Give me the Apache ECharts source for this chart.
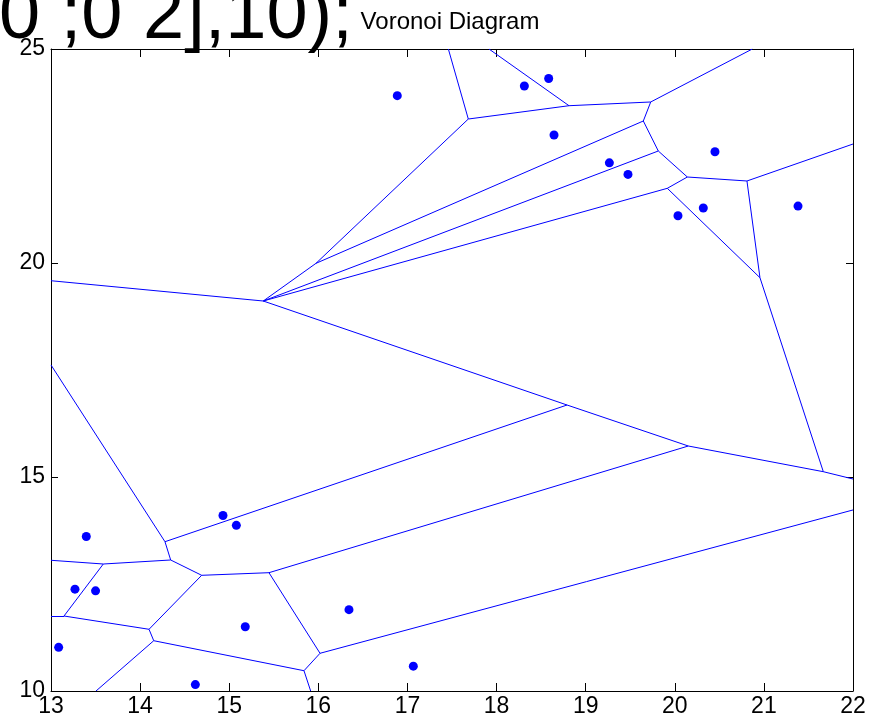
<!DOCTYPE html>
<html>
<head>
<meta charset="utf-8">
<script src="https://cdn.jsdelivr.net/npm/echarts@6/dist/echarts.min.js"></script>
<style>
    html, body { margin: 0; padding: 0; background: #fff; }
    #main { width: 873px; height: 722px; }
</style>
</head>
<body>
<div id="main"></div>
<script>
    // 点（sites）
    var siteX = [16.886, 18.312, 18.585, 18.645, 19.266, 19.475, 20.451, 20.320, 20.036, 21.383,
                 14.930, 15.080, 13.396, 13.269, 13.500, 13.086, 15.180, 16.344, 17.066, 14.620];
    var siteY = [23.91, 24.135, 24.31, 22.99, 22.34, 22.07, 22.60, 21.285, 21.105, 21.33,
                 14.10, 13.87, 13.61, 12.38, 12.34, 11.02, 11.50, 11.90, 10.58, 10.15];

    // voronoi 顶点, 后面几个是边出框的位置
    var vertX = [17.683, 18.813, 19.730, 19.647, 19.815, 20.141, 20.810, 19.916, 20.956, 15.382,
                 15.974, 18.791, 20.152, 21.667, 15.446, 14.279, 14.343, 13.587, 14.691, 14.100,
                 16.019, 13.146, 14.153, 15.839,
                 17.459, 17.915, 20.870, 22, 22, 22, 13, 13, 13, 13, 13.505, 15.914];
    var vertY = [23.364, 23.675, 23.762, 23.318, 22.617, 22.009, 21.916, 21.745, 19.657, 19.112,
                 19.993, 16.682, 15.724, 15.124, 12.764, 13.488, 13.061, 12.967, 12.703, 11.442,
                 10.881, 11.752, 11.175, 10.474,
                 25, 25, 25, 22.780, 14.953, 14.23, 19.586, 17.617, 13.054, 11.752, 10, 10];

    // 边: 顶点下标
    var edgeFrom = [24, 0, 0, 25, 1, 2, 2, 3, 3, 4, 4, 5, 5, 7, 7, 6, 6, 8, 13, 12, 9, 9,
                    9, 11, 11, 12, 31, 15, 16, 32, 16, 18, 18, 17, 33, 21, 19, 22, 22, 23, 23, 14, 20];
    var edgeTo   = [0, 10, 1, 1, 2, 26, 3, 10, 4, 9, 5, 6, 7, 9, 8, 8, 27, 13, 28, 13, 10, 30,
                    11, 12, 15, 14, 15, 16, 17, 17, 18, 14, 19, 21, 21, 19, 22, 34, 23, 20, 35, 20, 29];

    var xMin = 13, xMax = 22, xStep = 1;
    var yMin = 10, yMax = 25, yStep = 5;

    var font = "'Liberation Sans', Arial, sans-serif";

    var sites = siteX.map(function (x, i) { return [x, siteY[i]]; });
    var edges = edgeFrom.map(function (a, i) {
        var b = edgeTo[i];
        return { coords: [[vertX[a], vertY[a]], [vertX[b], vertY[b]]] };
    });

    var myChart = echarts.init(document.getElementById('main'));

    function axisX(pos, showLabel) {
        return {
            type: 'value', position: pos, min: xMin, max: xMax, interval: xStep,
            splitLine: { show: false },
            axisLine: { show: true, onZero: false, lineStyle: { color: '#000', width: 1 } },
            axisTick: { show: true, inside: true, length: 8, lineStyle: { color: '#000' } },
            axisLabel: { show: showLabel, color: '#000', fontSize: 23, fontFamily: font, margin: 4 }
        };
    }
    function axisY(pos, showLabel) {
        return {
            type: 'value', position: pos, min: yMin, max: yMax, interval: yStep,
            splitLine: { show: false },
            axisLine: { show: true, onZero: false, lineStyle: { color: '#000', width: 1 } },
            axisTick: { show: true, inside: true, length: 7, lineStyle: { color: '#000' } },
            axisLabel: { show: showLabel, color: '#000', fontSize: 23, fontFamily: font, margin: 6 }
        };
    }

    var option = {
        animation: false,
        backgroundColor: '#fff',
        grid: { left: 51, right: 20, top: 49, bottom: 31 },
        xAxis: [axisX('bottom', true), axisX('top', false)],
        yAxis: [axisY('left', true), axisY('right', false)],
        graphic: [
            {
                type: 'text', left: -1, top: -19, z: 10,
                style: { text: '0 ;0 2],10);', fontSize: 74, fontFamily: font, fill: '#000' }
            },
            {
                type: 'text', x: 450, y: 22, z: 10,
                style: { text: 'Voronoi Diagram', fontSize: 24, fontFamily: font, fill: '#000',
                         align: 'center', verticalAlign: 'middle' }
            }
        ],
        series: [
            {
                type: 'lines',
                coordinateSystem: 'cartesian2d',
                silent: true,
                lineStyle: { color: '#0000ff', width: 1, opacity: 1 },
                data: edges
            },
            {
                type: 'scatter',
                symbol: 'circle',
                symbolSize: 9,
                silent: true,
                itemStyle: { color: '#0000ff', opacity: 1 },
                data: sites,
                z: 5
            }
        ]
    };

    myChart.setOption(option);
</script>
</body>
</html>
